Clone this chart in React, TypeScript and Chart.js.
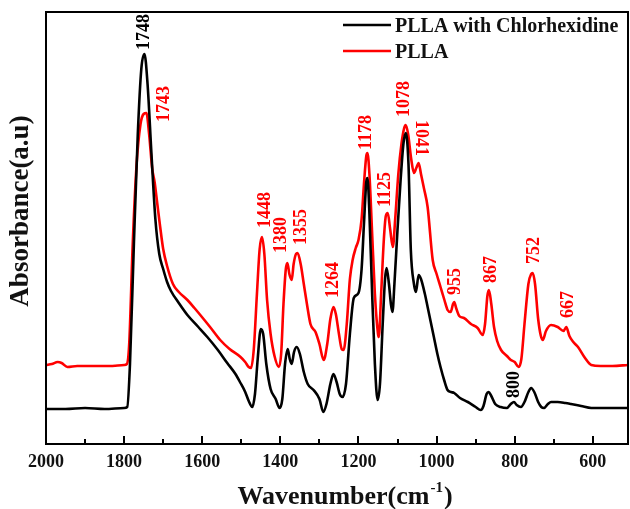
import React, { useEffect, useRef } from 'react';
import { Chart, registerables } from 'chart.js';

Chart.register(...registerables);

const FONT = '"Liberation Serif", "Times New Roman", serif';

// Wavenumber axis ticks
const xTickValues = [2000, 1800, 1600, 1400, 1200, 1000, 800, 600];
const xMinorTicks = [1900, 1700, 1500, 1300, 1100, 900, 700];

// PLLA with Chlorhexidine (black)
const blackWn = [
  2000, 1950, 1900, 1850, 1800, 1792, 1785, 1775, 1765, 1756,
  1748, 1740, 1730, 1720, 1710, 1700, 1690, 1680, 1660, 1638,
  1610, 1587, 1560, 1536, 1515, 1502, 1490, 1481, 1472, 1465,
  1458, 1450, 1444, 1436, 1425, 1412, 1402, 1395, 1388, 1381,
  1376, 1371, 1365, 1358, 1350, 1340, 1330, 1315, 1300, 1290,
  1282, 1272, 1264, 1256, 1248, 1241, 1232, 1222, 1212, 1200,
  1192, 1186, 1180, 1177, 1172, 1165, 1158, 1151, 1145, 1138,
  1132, 1128, 1122, 1117, 1113, 1108, 1100, 1092, 1085, 1079,
  1072, 1066, 1058, 1053, 1046, 1040, 1030, 1023, 1015, 1007,
  998, 990, 980, 972, 963, 955, 940, 920, 900, 887,
  880, 872, 867, 860, 850, 836, 820, 810, 802, 795,
  784, 775, 765, 758, 750, 740, 732, 725, 715, 707,
  690, 670, 656, 630, 604, 560, 510,
];
const blackAbs = [
  35, 35, 36, 35, 36, 37, 80, 200, 310, 375,
  390, 360, 290, 225, 190, 175, 162, 153, 141, 129,
  117, 107, 94, 81, 70, 61, 52, 43, 37, 50,
  85, 115, 110, 80, 55, 45, 36, 45, 80, 95,
  85, 80, 92, 97, 90, 72, 60, 54, 45, 32,
  40, 60, 70, 62, 50, 47, 60, 110, 146, 151,
  175, 220, 262, 266, 230, 150, 80, 44, 60, 120,
  165, 176, 160, 140, 132, 160, 215, 265, 300, 311,
  280, 194, 160, 152, 169, 165, 150, 137, 122, 107,
  90, 77, 63, 54, 52, 51, 46, 42, 37, 34,
  38, 50, 52, 48, 40, 37, 36, 40, 42, 39,
  37, 42, 52, 56, 52, 42, 37, 36, 40, 42,
  42, 41, 40, 38, 36, 36, 36,
];

// PLLA (red)
const redWn = [
  2000, 1985, 1970, 1960, 1945, 1920, 1880, 1840, 1800, 1793,
  1787, 1778, 1768, 1758, 1750, 1743, 1736, 1728, 1722, 1715,
  1708, 1700, 1690, 1675, 1660, 1638, 1620, 1605, 1580, 1554,
  1530, 1502, 1490, 1481, 1475, 1468, 1460, 1453, 1447, 1441,
  1434, 1425, 1415, 1404, 1398, 1392, 1386, 1382, 1377, 1371,
  1366, 1360, 1356, 1348, 1340, 1332, 1323, 1310, 1300, 1289,
  1280, 1272, 1264, 1258, 1250, 1243, 1238, 1230, 1222, 1215,
  1207, 1200, 1192, 1186, 1180, 1177, 1172, 1165, 1158, 1150,
  1148, 1142, 1135, 1130, 1125, 1119, 1112, 1106, 1098, 1090,
  1083, 1079, 1073, 1065, 1058, 1052, 1046, 1040, 1032, 1023,
  1010, 1000, 990, 980, 972, 964, 958, 955, 950, 942,
  930, 912, 895, 882, 876, 870, 866, 860, 853, 845,
  835, 820, 810, 800, 790, 783, 775, 765, 758, 754,
  748, 740, 733, 728, 720, 707, 690, 675, 668, 660,
  650, 638, 620, 604, 580, 550, 510,
];
const redAbs = [
  79, 80, 82, 81, 77, 78, 78, 78, 79, 80,
  100, 200, 280, 320, 330, 331, 310, 275, 262, 240,
  218, 195, 178, 160, 152, 144, 136, 129, 117, 104,
  95, 87, 82, 77, 76, 95, 150, 195, 207, 190,
  144, 110, 88, 77, 90, 140, 175, 181, 170, 164,
  180, 190, 191, 180, 160, 140, 120, 112, 100, 84,
  100, 125, 137, 130, 110, 95, 94, 120, 165, 184,
  196, 204, 225, 260, 288, 291, 270, 210, 150, 110,
  107, 150, 205, 228, 231, 215, 197, 225, 270, 300,
  316, 319, 310, 285, 271, 276, 281, 270, 255, 237,
  184, 170, 157, 144, 134, 132, 140, 142, 136, 128,
  126, 120, 116, 109, 120, 148, 154, 140, 117, 103,
  94, 88, 84, 82, 77, 85, 120, 160, 170, 171,
  160, 125, 108, 104, 113, 119, 117, 113, 117, 108,
  102, 97, 86, 79, 78, 78, 79,
];

// Peak annotations
const peakLabels = ['1748', '1743', '1448', '1380', '1355', '1264', '1178', '1125', '1078', '1041', '955', '867', '800', '752', '667'];
const peakLabelWn = [1751, 1700, 1442, 1401, 1350, 1268, 1183, 1135, 1086, 1037, 955, 863, 804, 753, 666];
const peakLabelAbs = [394, 322, 216, 191, 199, 146, 294, 237, 327, 324, 149, 161, 46, 180, 126];
const peakLabelSeries = [0, 1, 1, 1, 1, 1, 1, 1, 1, 1, 1, 1, 0, 1, 1];
const peakLabelDown = [false, false, false, false, false, false, false, false, false, true, false, false, false, false, false];

const seriesNames = ['PLLA with Chlorhexidine', 'PLLA'];
const seriesColors = ['#000000', '#ff0000'];

export default function App() {
  const ref = useRef<HTMLCanvasElement>(null);

  useEffect(() => {
    const decorPlugin = {
      id: 'decor',
      afterDraw(chart: any) {
        const ctx = chart.ctx as CanvasRenderingContext2D;
        const { left, right, top, bottom } = chart.chartArea;
        const xs = chart.scales.x;
        const ys = chart.scales.y;
        ctx.save();
        // frame
        ctx.strokeStyle = '#000';
        ctx.lineWidth = 2;
        ctx.strokeRect(left, top, right - left, bottom - top);
        // inward ticks
        ctx.beginPath();
        xTickValues.forEach((v) => {
          const px = Math.round(xs.getPixelForValue(v));
          ctx.moveTo(px, bottom);
          ctx.lineTo(px, bottom - 8);
        });
        xMinorTicks.forEach((v) => {
          const px = Math.round(xs.getPixelForValue(v));
          ctx.moveTo(px, bottom);
          ctx.lineTo(px, bottom - 5);
        });
        ctx.stroke();

        // peak labels
        ctx.font = `bold 18px ${FONT}`;
        ctx.textAlign = 'left';
        ctx.textBaseline = 'middle';
        peakLabels.forEach((t, i) => {
          const px = xs.getPixelForValue(peakLabelWn[i]);
          const py = ys.getPixelForValue(peakLabelAbs[i]);
          ctx.save();
          ctx.translate(px, py);
          ctx.rotate(peakLabelDown[i] ? Math.PI / 2 : -Math.PI / 2);
          ctx.fillStyle = seriesColors[peakLabelSeries[i]];
          ctx.fillText(t, 0, 1);
          ctx.restore();
        });

        // legend
        ctx.font = `bold 20px ${FONT}`;
        ctx.textBaseline = 'alphabetic';
        ctx.textAlign = 'left';
        const legendY = [25, 51];
        seriesNames.forEach((name, i) => {
          ctx.strokeStyle = seriesColors[i];
          ctx.lineWidth = 2.6;
          ctx.beginPath();
          ctx.moveTo(343, legendY[i]);
          ctx.lineTo(391, legendY[i]);
          ctx.stroke();
          ctx.fillStyle = '#111';
          ctx.fillText(name, 395, legendY[i] + 7);
        });

        // x title with superscript
        ctx.fillStyle = '#111';
        const mainFont = `bold 26px ${FONT}`;
        const supFont = `bold 15px ${FONT}`;
        const part1 = 'Wavenumber(cm';
        const sup = '-1';
        const part2 = ')';
        ctx.font = mainFont;
        const w1 = ctx.measureText(part1).width;
        const w3 = ctx.measureText(part2).width;
        ctx.font = supFont;
        const w2 = ctx.measureText(sup).width;
        const total = w1 + w2 + w3 + 2;
        let sx = 345 - total / 2;
        const baseY = 504;
        ctx.font = mainFont;
        ctx.fillText(part1, sx, baseY);
        sx += w1 + 1;
        ctx.font = supFont;
        ctx.fillText(sup, sx, baseY - 12);
        sx += w2 + 1;
        ctx.font = mainFont;
        ctx.fillText(part2, sx, baseY);

        // y title
        ctx.save();
        ctx.translate(21, 211);
        ctx.rotate(-Math.PI / 2);
        ctx.font = `bold 27px ${FONT}`;
        ctx.textAlign = 'center';
        ctx.textBaseline = 'middle';
        ctx.fillText('Absorbance(a.u)', 0, 0);
        ctx.restore();

        ctx.restore();
      },
    };

    const chart = new Chart(ref.current as HTMLCanvasElement, {
      type: 'line',
      data: {
        datasets: [
          {
            label: seriesNames[0],
            data: blackWn.map((x, i) => ({ x, y: blackAbs[i] })),
            borderColor: seriesColors[0],
            borderWidth: 2.6,
            pointRadius: 0,
            cubicInterpolationMode: 'monotone',
            fill: false,
          },
          {
            label: seriesNames[1],
            data: redWn.map((x, i) => ({ x, y: redAbs[i] })),
            borderColor: seriesColors[1],
            borderWidth: 2.6,
            pointRadius: 0,
            cubicInterpolationMode: 'monotone',
            fill: false,
          },
        ],
      },
      options: {
        animation: false,
        responsive: false,
        maintainAspectRatio: false,
        layout: { padding: { left: 46, right: 2, top: 12, bottom: 0 } },
        plugins: { legend: { display: false }, tooltip: { enabled: false } },
        scales: {
          x: {
            type: 'linear',
            reverse: true,
            min: 510,
            max: 2000,
            grid: { display: false, drawTicks: false },
            border: { display: false },
            ticks: {
              font: { family: FONT, size: 18, weight: 'bold' },
              color: '#111',
              padding: 8,
              maxRotation: 0,
              autoSkip: false,
              callback: (v: any) => String(v),
            },
            afterBuildTicks: (s: any) => {
              s.ticks = xTickValues.map((v) => ({ value: v }));
            },
            afterFit: (s: any) => {
              s.height = 65;
            },
          },
          y: { display: false, min: 0, max: 432 },
        },
      },
      plugins: [decorPlugin],
    } as any);
    return () => chart.destroy();
  }, []);

  return (
    <div style={{ position: 'absolute', left: 0, top: 0, width: 630, height: 509, background: '#fff' }}>
      <canvas ref={ref} width={630} height={509} style={{ display: 'block', width: 630, height: 509 }} />
    </div>
  );
}
